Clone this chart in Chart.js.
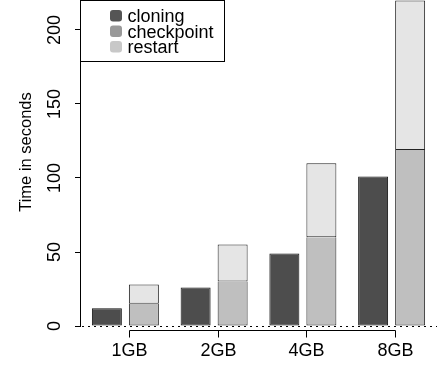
<!DOCTYPE html>
<html>
<head>
<meta charset="utf-8">
<script src="https://cdn.jsdelivr.net/npm/chart.js@4.4.0/dist/chart.umd.min.js"></script>
<style>
  html, body { margin: 0; padding: 0; background: #fff; }
  #wrap { width: 437px; height: 366px; }
</style>
</head>
<body>
<div id="wrap"><canvas id="chart"></canvas></div>
<script>
// data
var sizes = ["1GB", "2GB", "4GB", "8GB"];
var cloning = [12, 26, 49, 101];
var checkpoint = [15, 30, 60, 119];
var restart = [13, 25, 50, 101];
var yTicks = [0, 50, 100, 150, 200];
var seriesNames = ["cloning", "checkpoint", "restart"];
var yTitle = "Time in seconds";

var FONT = "'Liberation Sans', Arial, Helvetica, sans-serif";
var legendColors = ["#555555", "#999999", "#c8c8c8"];

// R style axes: lines only between first and last tick, dotted line at zero
var rAxes = {
  id: "rAxes",
  beforeDatasetsDraw: function (chart) {
    var ctx = chart.ctx, area = chart.chartArea;
    var y0 = Math.round(chart.scales.y.getPixelForValue(0)) + 0.5;
    ctx.save();
    ctx.strokeStyle = "#000";
    ctx.lineWidth = 1;
    ctx.setLineDash([2, 4]);
    ctx.beginPath();
    ctx.moveTo(area.left + 1, y0);
    ctx.lineTo(chart.width, y0);
    ctx.stroke();
    ctx.restore();
  },
  afterDraw: function (chart) {
    var ctx = chart.ctx, y = chart.scales.y, area = chart.chartArea;
    var xl = Math.floor(area.left) - 0.5;
    var yb = Math.round(area.bottom) + 0.5;
    // x ticks sit at the left edge of the checkpoint/restart bar
    var bars = chart.getDatasetMeta(1).data;
    var xs = bars.map(function (b) {
      var p = b.getProps(["x", "width"], true);
      return Math.round(p.x - p.width / 2) + 0.5;
    });
    ctx.save();
    ctx.strokeStyle = "#000";
    ctx.lineWidth = 1;
    ctx.beginPath();
    ctx.moveTo(xl, y.getPixelForValue(yTicks[0]));
    ctx.lineTo(xl, y.getPixelForValue(yTicks[yTicks.length - 1]));
    ctx.moveTo(xs[0], yb);
    ctx.lineTo(xs[xs.length - 1], yb);
    xs.forEach(function (x) {
      ctx.moveTo(x, yb);
      ctx.lineTo(x, yb + 7);
    });
    ctx.stroke();
    ctx.fillStyle = "#000";
    ctx.font = "18px " + FONT;
    ctx.textAlign = "center";
    ctx.textBaseline = "middle";
    xs.forEach(function (x, i) {
      ctx.fillText(sizes[i], x, yb + 21);
    });
    // y axis title, centred on the full R plot region
    ctx.translate(26, 152);
    ctx.rotate(-Math.PI / 2);
    ctx.font = "16.5px " + FONT;
    ctx.fillText(yTitle, 0, 0);
    ctx.restore();
  },
};

// boxed legend in the top left corner of the plot
var boxLegend = {
  id: "boxLegend",
  afterDraw: function (chart) {
    var ctx = chart.ctx;
    var left = Math.floor(chart.chartArea.left) - 0.5;
    ctx.save();
    ctx.fillStyle = "#fff";
    ctx.fillRect(left, 0.5, 144, 61);
    ctx.strokeStyle = "#000";
    ctx.lineWidth = 1;
    ctx.strokeRect(left, 0.5, 144, 61);
    ctx.font = "18px " + FONT;
    ctx.textBaseline = "alphabetic";
    for (var i = 0; i < seriesNames.length; i++) {
      var top = 10 + i * 15.5;
      ctx.fillStyle = legendColors[i];
      ctx.beginPath();
      ctx.roundRect(left + 29.5, top, 12, 11.5, 3);
      ctx.fill();
      ctx.fillStyle = "#000";
      ctx.fillText(seriesNames[i], left + 47, top + 12);
    }
    ctx.restore();
  },
};

new Chart(document.getElementById("chart").getContext("2d"), {
  type: "bar",
  data: {
    labels: sizes,
    datasets: [
      {
        label: seriesNames[0],
        data: cloning,
        stack: "clone",
        backgroundColor: "#4d4d4d",
        borderColor: "#111111",
        borderSkipped: false,
      },
      {
        label: seriesNames[1],
        data: checkpoint,
        stack: "cr",
        backgroundColor: "#bfbfbf",
        borderColor: "#222222",
        borderSkipped: "top",
      },
      {
        label: seriesNames[2],
        data: restart,
        stack: "cr",
        backgroundColor: "#e5e5e5",
        borderColor: "#222222",
        borderSkipped: false,
      },
    ],
  },
  options: {
    responsive: true,
    maintainAspectRatio: false,
    animation: false,
    categoryPercentage: 0.834,
    barPercentage: 0.81,
    borderWidth: 1,
    clip: false,
    layout: { padding: { top: 24, right: 1, bottom: 36, left: 0 } },
    plugins: {
      legend: { display: false },
      tooltip: { enabled: false },
    },
    scales: {
      x: { type: "category", display: false },
      y: {
        stacked: true,
        min: -2.7,
        max: 204.05,
        afterBuildTicks: function (scale) {
          scale.ticks = yTicks.map(function (v) {
            return { value: v };
          });
        },
        afterFit: function (scale) {
          scale.width = 81;
          scale.paddingTop = 0;
          scale.paddingBottom = 0;
        },
        grid: { drawOnChartArea: false, tickLength: 6, color: "#000" },
        border: { display: false },
        ticks: {
          minRotation: 90,
          maxRotation: 90,
          crossAlign: "center",
          padding: 5,
          color: "#000",
          font: { family: FONT, size: 18 },
        },
      },
    },
  },
  plugins: [rAxes, boxLegend],
});
</script>
</body>
</html>
